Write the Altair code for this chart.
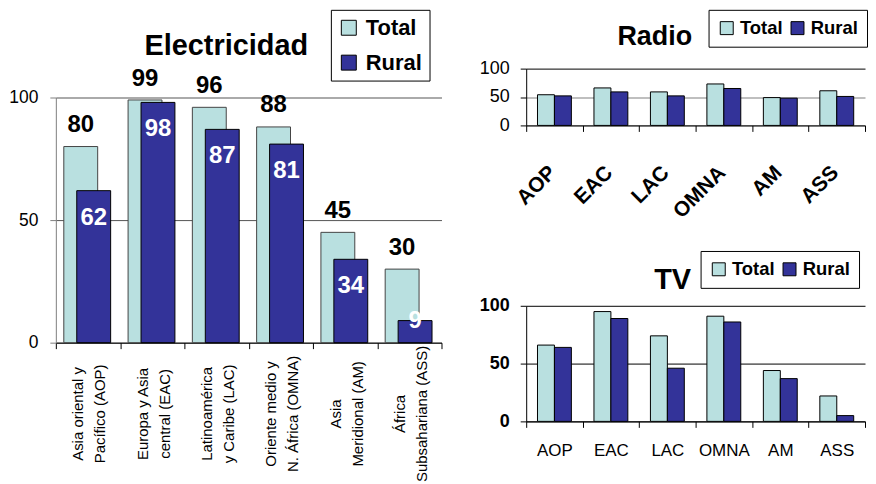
import altair as alt
import pandas as pd

# ---------------- data ----------------
regions = ["AOP", "EAC", "LAC", "OMNA", "AM", "ASS"]
elec_names = [
    "Asia oriental y|Pacífico (AOP)",
    "Europa y Asia|central (EAC)",
    "Latinoamérica|y Caribe (LAC)",
    "Oriente medio y|N. África (OMNA)",
    "Asia|Meridional (AM)",
    "África|Subsahariana (ASS)",
]
series = ["Total", "Rural"]
elec_total = [80, 99, 96, 88, 45, 30]
elec_rural = [62, 98, 87, 81, 34, 9]
radio_total = [54, 66, 59, 73, 49, 61]
radio_rural = [52, 59, 52, 65, 48, 51]
tv_total = [66, 95, 74, 91, 44, 22]
tv_rural = [64, 89, 46, 86, 37, 5]

CYAN = "#B9E0E0"
BLUE = "#333399"
SANS = "Liberation Sans, Arial, Helvetica"


def long_table(labels, total, rural):
    rows = []
    for lab, t, r in zip(labels, total, rural):
        rows.append({"region": lab, "serie": "Total", "v": t})
        rows.append({"region": lab, "serie": "Rural", "v": r})
    return pd.DataFrame(rows)


color_scale = alt.Scale(domain=series, range=[CYAN, BLUE])


def make_legend(x, y, direction, size, font_size, padding, row_pad, col_pad, lab_off):
    return alt.Legend(
        title=None, orient="none", legendX=x, legendY=y, direction=direction,
        symbolType="square", symbolSize=size, symbolStrokeColor="black",
        symbolStrokeWidth=1, symbolOpacity=1,
        labelFont=SANS, labelFontSize=font_size, labelFontWeight="bold",
        labelColor="black", padding=padding, rowPadding=row_pad,
        columnPadding=col_pad, labelOffset=lab_off,
        strokeColor="black", fillColor="white",
    )


# ---------------- Electricidad ----------------
elec_df = long_table(elec_names, elec_total, elec_rural)
ex = alt.X(
    "region:N", sort=elec_names,
    scale=alt.Scale(paddingInner=0, paddingOuter=0),
    axis=alt.Axis(
        title=None, labelExpr="split(datum.label, '|')", labelAngle=270,
        labelAlign="center", labelBaseline="middle", labelFont=SANS,
        labelFontSize=15, labelLineHeight=22, labelPadding=65, labelOffset=-10,
        tickBand="extent", tickSize=6, tickColor="black", domainColor="black",
        labelColor="black", labelLimit=300, grid=False,
    ),
)
ey = alt.Y(
    "v:Q", scale=alt.Scale(domain=[0, 100], nice=False),
    axis=alt.Axis(
        title=None, values=[0, 50, 100], grid=True, gridColor="#555555",
        domainColor="#808080", tickColor="#808080", tickSize=6,
        labelFont=SANS, labelFontSize=17.5, labelPadding=12, labelColor="black",
    ),
)
elec_base = alt.Chart(elec_df)
elec_color = alt.Color(
    "serie:N", scale=color_scale,
    legend=make_legend(276, -88, "vertical", 225, 22, 7, 13, 10, 6),
)
e_tot = elec_base.transform_filter("datum.serie == 'Total'").mark_bar(
    width=34, xOffset=-7.25, stroke="#444444", strokeWidth=1, opacity=1
).encode(x=ex, y=ey, color=elec_color)
e_rur = elec_base.transform_filter("datum.serie == 'Rural'").mark_bar(
    width=34, xOffset=5.75, stroke="black", strokeWidth=1, opacity=1
).encode(x=ex, y=ey, color=elec_color)
e_tot_lab = elec_base.transform_filter("datum.serie == 'Total'").mark_text(
    font=SANS, fontSize=24, fontWeight="bold", color="black",
    baseline="middle", dy=-21.5, xOffset=-7.25,
).encode(x=ex, y=ey, text="v:Q")
e_rur_lab = elec_base.transform_filter("datum.serie == 'Rural'").transform_calculate(
    ly="max(datum.v, 20)"
).mark_text(
    font=SANS, fontSize=24, fontWeight="bold", color="white",
    baseline="middle", dy=27, xOffset=5.75,
).encode(x=ex, y=alt.Y("ly:Q"), text="v:Q")

elec = alt.layer(e_tot, e_rur, e_tot_lab, e_rur_lab).properties(
    width=387, height=246,
    title=alt.TitleParams(
        text="Electricidad", font=SANS, fontSize=29, fontWeight="bold",
        color="black", anchor="middle", frame="group", offset=-52, dx=-22.5,
    ),
)

# ---------------- Radio ----------------
radio_df = long_table(regions, radio_total, radio_rural)
rx = alt.X(
    "region:N", sort=regions,
    scale=alt.Scale(paddingInner=0, paddingOuter=0),
    axis=alt.Axis(
        title=None, labelAngle=315, labelAlign="right", labelBaseline="middle",
        labelFont=SANS, labelFontSize=21, labelFontWeight="bold",
        labelPadding=38, labelOffset=-2, tickBand="extent", tickSize=6,
        tickColor="black", domainColor="black", labelColor="black", grid=False,
    ),
)
ry = alt.Y(
    "v:Q", scale=alt.Scale(domain=[0, 100], nice=False),
    axis=alt.Axis(
        title=None, values=[0, 50, 100], grid=True,
        gridColor={"condition": {"test": "datum.value === 100", "value": "#000000"},
                   "value": "#808080"},
        domainColor="black", tickColor="black", tickSize=6,
        labelFont=SANS, labelFontSize=18, labelPadding=11, labelColor="black",
    ),
)
radio_color = alt.Color(
    "serie:N", scale=color_scale,
    legend=make_legend(183, -59, "horizontal", 169, 18.5, 9, 4, 5, 4),
)
radio_base = alt.Chart(radio_df)
r_tot = radio_base.transform_filter("datum.serie == 'Total'").mark_bar(
    width=17, xOffset=-8.5, stroke="black", strokeWidth=1, opacity=1
).encode(x=rx, y=ry, color=radio_color)
r_rur = radio_base.transform_filter("datum.serie == 'Rural'").mark_bar(
    width=17, xOffset=8.5, stroke="black", strokeWidth=1, opacity=1
).encode(x=rx, y=ry, color=radio_color)
radio = alt.layer(r_tot, r_rur).properties(
    width=340, height=57,
    title=alt.TitleParams(
        text="Radio", font=SANS, fontSize=27, fontWeight="bold", color="black",
        anchor="middle", frame="group", offset=-42, dx=-41,
    ),
)

# ---------------- TV ----------------
tv_df = long_table(regions, tv_total, tv_rural)
tx = alt.X(
    "region:N", sort=regions,
    scale=alt.Scale(paddingInner=0, paddingOuter=0),
    axis=alt.Axis(
        title=None, labelAngle=0, labelAlign="center", labelBaseline="top",
        labelFont=SANS, labelFontSize=17, labelPadding=15,
        tickBand="extent", tickSize=6, tickColor="black",
        domainColor="black", labelColor="black", grid=False,
    ),
)
ty = alt.Y(
    "v:Q", scale=alt.Scale(domain=[0, 100], nice=False),
    axis=alt.Axis(
        title=None, values=[0, 50, 100], grid=True, gridColor="black",
        domainColor="black", tickColor="black", tickSize=6,
        labelFont=SANS, labelFontSize=18, labelFontWeight="bold",
        labelPadding=11, labelColor="black",
    ),
)
tv_color = alt.Color(
    "serie:N", scale=color_scale,
    legend=make_legend(175, -55, "horizontal", 169, 18.5, 9, 4, 5, 4),
)
tv_base = alt.Chart(tv_df)
t_tot = tv_base.transform_filter("datum.serie == 'Total'").mark_bar(
    width=17, xOffset=-8.5, stroke="black", strokeWidth=1, opacity=1
).encode(x=tx, y=ty, color=tv_color)
t_rur = tv_base.transform_filter("datum.serie == 'Rural'").mark_bar(
    width=17, xOffset=8.5, stroke="black", strokeWidth=1, opacity=1
).encode(x=tx, y=ty, color=tv_color)
tv = alt.layer(t_tot, t_rur).properties(
    width=340, height=116,
    title=alt.TitleParams(
        text="TV", font=SANS, fontSize=29, fontWeight="bold", color="black",
        anchor="middle", frame="group", offset=-45, dx=-23,
    ),
)

# ---------------- layout ----------------
spacer = alt.Chart(pd.DataFrame({"a": [0]})).mark_point(opacity=0).encode(
    x=alt.value(0), y=alt.value(0)
).properties(width=387, height=29)

left = alt.vconcat(spacer, elec, spacing=0, bounds="flush").resolve_scale(
    color="independent"
).resolve_legend(color="independent")
right = alt.vconcat(radio, tv, spacing=181, bounds="flush").resolve_scale(
    color="independent"
).resolve_legend(color="independent")

chart = alt.hconcat(left, right, spacing=36).resolve_scale(
    color="independent"
).resolve_legend(color="independent").properties(
    padding=0, background="white"
).configure_view(strokeWidth=0)

chart.save("out.html", embed_options={"renderer": "svg", "actions": False})
